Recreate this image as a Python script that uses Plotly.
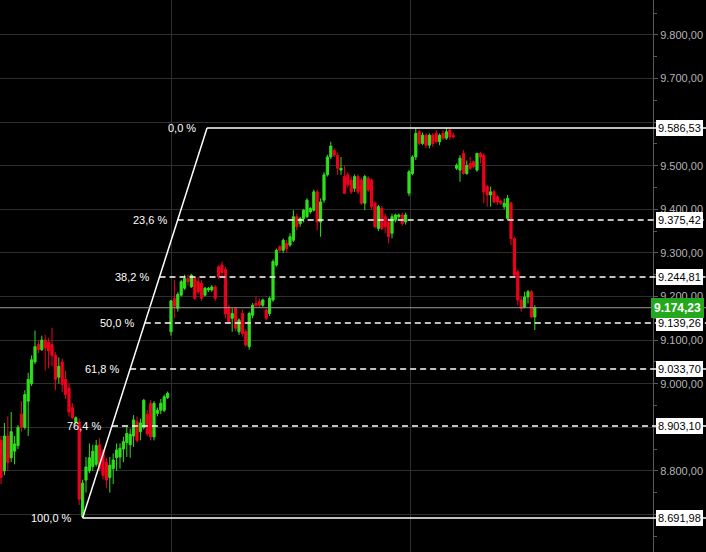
import plotly.graph_objects as go

# ---------------- data ----------------
opens = [8870, 8800, 8880, 8830, 8845, 8858, 8930, 8900, 8960, 9000,
         9050, 9090, 9078, 9100, 9095, 9090, 9065, 9015, 9050, 9010,
         8990, 8945, 8912, 8912, 8695, 8779, 8800, 8810, 8815, 8860,
         8845, 8820, 8785, 8805, 8830, 8832, 8850, 8865, 8860, 8880,
         8913, 8890, 8900, 8930, 8955, 8878, 8932, 8939, 8939, 8968,
         9119, 9195, 9173, 9203, 9219, 9241, 9222, 9241, 9234, 9230,
         9203, 9215, 9215, 9222, 9268, 9272, 9262, 9176, 9150, 9173,
         9119, 9161, 9119, 9085, 9157, 9184, 9188, 9180, 9169, 9161,
         9192, 9272, 9314, 9306, 9322, 9318, 9329, 9383, 9367, 9379,
         9383, 9394, 9398, 9440, 9371, 9421, 9479, 9520, 9535, 9524,
         9490, 9475, 9479, 9467, 9448, 9475, 9467, 9414, 9471, 9467,
         9414, 9356, 9402, 9383, 9371, 9345, 9375, 9383, 9387, 9371,
         9437, 9482, 9520, 9578, 9551, 9570, 9547, 9570, 9574, 9555,
         9574, 9563, 9582, 9570, 9494, 9490, 9528, 9482, 9505, 9509,
         9490, 9528, 9524, 9452, 9433, 9440, 9429, 9419, 9406, 9379,
         9414, 9333, 9257, 9192, 9176, 9199, 9211, 9153]
highs = [8880, 8910, 8925, 8935, 8880, 8905, 8960, 8985, 9025, 9065,
         9122, 9100, 9110, 9112, 9105, 9128, 9072, 9060, 9058, 9030,
         9000, 8955, 8925, 8920, 8780, 8832, 8863, 8860, 8871, 8875,
         8850, 8830, 8832, 8840, 8863, 8863, 8878, 8901, 8897, 8928,
         8925, 8920, 8965, 8940, 8962, 8960, 8945, 8965, 8975, 8982,
         9192, 9238, 9210, 9238, 9250, 9250, 9252, 9245, 9245, 9238,
         9222, 9222, 9226, 9226, 9272, 9280, 9268, 9180, 9173, 9176,
         9150, 9170, 9125, 9165, 9185, 9200, 9196, 9195, 9172, 9200,
         9285, 9310, 9318, 9333, 9330, 9345, 9398, 9390, 9383, 9400,
         9425, 9405, 9445, 9445, 9425, 9485, 9525, 9555, 9540, 9530,
         9520, 9500, 9485, 9475, 9480, 9480, 9472, 9479, 9476, 9470,
         9418, 9410, 9408, 9390, 9380, 9390, 9390, 9390, 9392, 9392,
         9490, 9524, 9586.53, 9582, 9576, 9574, 9574, 9574, 9582, 9574,
         9582, 9586, 9584, 9576, 9505, 9524, 9536, 9512, 9520, 9512,
         9530, 9532, 9528, 9456, 9452, 9445, 9433, 9422, 9425, 9433,
         9418, 9336, 9262, 9200, 9211, 9215, 9215, 9180]
lows = [8770, 8790, 8800, 8820, 8815, 8850, 8890, 8895, 8880, 8995,
        9045, 9070, 9075, 9030, 9035, 9040, 8985, 9000, 8980, 8965,
        8925, 8918, 8905, 8722, 8691.98, 8750, 8795, 8800, 8810, 8800,
        8780, 8760, 8750, 8770, 8800, 8805, 8820, 8832, 8830, 8855,
        8865, 8870, 8895, 8880, 8870, 8870, 8925, 8930, 8935, 8965,
        9110, 9150, 9165, 9200, 9215, 9225, 9220, 9192, 9205, 9190,
        9200, 9210, 9211, 9190, 9240, 9245, 9150, 9138, 9119, 9120,
        9112, 9108, 9085, 9078, 9150, 9176, 9175, 9176, 9145, 9155,
        9188, 9268, 9300, 9300, 9300, 9314, 9325, 9352, 9360, 9370,
        9380, 9390, 9395, 9352, 9337, 9415, 9475, 9515, 9520, 9479,
        9479, 9435, 9450, 9435, 9440, 9435, 9410, 9398, 9440, 9400,
        9356, 9350, 9352, 9345, 9322, 9333, 9370, 9378, 9362, 9365,
        9430, 9478, 9513, 9547, 9547, 9540, 9540, 9543, 9551, 9547,
        9559, 9559, 9559, 9563, 9490, 9463, 9479, 9479, 9490, 9494,
        9486, 9505, 9414, 9406, 9406, 9414, 9410, 9410, 9400, 9375,
        9318, 9245, 9180, 9165, 9173, 9184, 9150, 9123]
closes = [8785, 8880, 8820, 8890, 8862, 8900, 8900, 8975, 9010, 9055,
          9085, 9078, 9100, 9082, 9075, 9065, 9010, 9040, 8998, 8975,
          8935, 8922, 8922, 8735, 8772, 8809, 8830, 8845, 8858, 8805,
          8790, 8779, 8813, 8825, 8848, 8852, 8867, 8886, 8884, 8917,
          8870, 8910, 8962, 8885, 8878, 8955, 8939, 8955, 8970, 8978,
          9190, 9178, 9205, 9234, 9241, 9234, 9249, 9196, 9211, 9196,
          9219, 9219, 9222, 9196, 9245, 9255, 9160, 9142, 9161, 9127,
          9146, 9115, 9089, 9161, 9180, 9180, 9180, 9192, 9150, 9196,
          9280, 9306, 9306, 9329, 9310, 9337, 9383, 9360, 9379, 9398,
          9421, 9402, 9440, 9371, 9417, 9479, 9520, 9545, 9524, 9494,
          9494, 9437, 9456, 9440, 9475, 9440, 9414, 9475, 9444, 9406,
          9360, 9406, 9356, 9360, 9337, 9383, 9387, 9387, 9367, 9387,
          9486, 9520, 9574, 9551, 9570, 9547, 9570, 9551, 9555, 9570,
          9563, 9578, 9566, 9566, 9501, 9517, 9482, 9501, 9494, 9498,
          9528, 9520, 9440, 9433, 9440, 9417, 9417, 9414, 9414, 9425,
          9333, 9249, 9192, 9173, 9199, 9211, 9153, 9174.23]

fib_ratios = [0.0, 23.6, 38.2, 50.0, 61.8, 76.4, 100.0]
fib_prices = [9586.53, 9375.42, 9244.81, 9139.26, 9033.70, 8903.10, 8691.98]
fib_anchor_x = [60.6, 24.0]          # candle positions of the 0 % and 100 % anchors

ytick_vals = [8700, 8800, 8900, 9000, 9100, 9200, 9300, 9400, 9500, 9600, 9700, 9800]
day_breaks = [50.15, 120.45]

# ---------------- style ----------------
GREEN = "#2fe01c"
RED = "#f0001e"
GRID = "#2e2e2e"
FONT = "Liberation Sans, Arial, sans-serif"
X_RANGE = [-1 / 3.4, 652 / 3.4]
Y_RANGE = [8614, 9880]


def de(v):
    return f"{v:,.2f}".replace(",", "X").replace(".", ",").replace("X", ".")


def pct(r):
    return f"{r:.1f}".replace(".", ",") + " %"


hidden = {8700, 8900, 9600}
ytick_text = ["" if v in hidden else de(v) for v in ytick_vals]

x = list(range(len(opens)))

fig = go.Figure()
fig.add_trace(go.Candlestick(
    x=x, open=opens, high=highs, low=lows, close=closes,
    increasing=dict(line=dict(color=GREEN, width=1), fillcolor=GREEN),
    decreasing=dict(line=dict(color=RED, width=1), fillcolor=RED),
    whiskerwidth=0, showlegend=False, hoverinfo="skip",
))


def to_paper(xv):
    return (xv - X_RANGE[0]) / (X_RANGE[1] - X_RANGE[0])


x_top, x_low = fib_anchor_x
shapes = []
annotations = []

# diagonal trend line
shapes.append(dict(type="line", xref="x", yref="y", x0=x_low, y0=fib_prices[-1],
                   x1=x_top, y1=fib_prices[0], line=dict(color="white", width=1.5)))

# current price line
last = closes[-1]
shapes.append(dict(type="line", xref="paper", yref="y", x0=0, x1=1.2, y0=last, y1=last,
                   line=dict(color="#9a9a9a", width=1)))

for r, p in zip(fib_ratios, fib_prices):
    xd = x_top - (r / 100.0) * (x_top - x_low)
    solid = r in (0.0, 100.0)
    shapes.append(dict(type="line", xref="paper", yref="y", x0=to_paper(xd), x1=1.2,
                       y0=p, y1=p,
                       line=dict(color="white", width=1.5, dash="solid" if solid else "6px,4px")))
    annotations.append(dict(x=xd, y=p, xref="x", yref="y", text=pct(r), showarrow=False,
                            xanchor="right", yanchor="middle", xshift=-9,
                            font=dict(color="white", size=11, family=FONT)))
    annotations.append(dict(x=1, y=p, xref="paper", yref="y", text=de(p), showarrow=False,
                            xanchor="left", yanchor="middle", xshift=3,
                            bgcolor="white", bordercolor="white", borderpad=1,
                            font=dict(color="black", size=11, family=FONT)))

annotations.append(dict(x=1, y=last, xref="paper", yref="y", text="<b>" + de(last) + "</b>",
                        showarrow=False, xanchor="left", yanchor="middle", xshift=-2,
                        bgcolor="#23a81e", bordercolor="#23a81e", borderpad=2,
                        font=dict(color="white", size=12, family=FONT)))

fig.update_layout(
    width=706, height=552, autosize=False,
    margin=dict(l=0, r=53, t=0, b=0, pad=0),
    paper_bgcolor="black", plot_bgcolor="black",
    separators=",.",
    boxgap=0.25, boxgroupgap=0.15,
    showlegend=False,
    shapes=shapes, annotations=annotations,
    font=dict(family=FONT, size=11, color="#b4b4b4"),
    xaxis=dict(range=X_RANGE, rangeslider=dict(visible=False), tickmode="array",
               tickvals=day_breaks, showticklabels=False, ticks="", showgrid=True,
               gridcolor=GRID, gridwidth=1, zeroline=False, showline=False,
               automargin=False, fixedrange=True),
    yaxis=dict(range=Y_RANGE, side="right", tickmode="array", tickvals=ytick_vals,
               ticktext=ytick_text, ticks="outside", ticklen=4, tickcolor="#5a5a5a",
               showgrid=True, gridcolor=GRID, gridwidth=1, zeroline=False,
               showline=True, linecolor="#5a5a5a", linewidth=1,
               tickfont=dict(color="#b4b4b4", size=11, family=FONT),
               minor=dict(tickmode="linear", tick0=0, dtick=50, ticks="outside",
                          ticklen=3, tickcolor="#5a5a5a", showgrid=False),
               automargin=False, fixedrange=True),
)

fig.write_html(
    "out.html",
    config={"displayModeBar": False, "staticPlot": True},
    post_script="document.body.style.margin='0';document.body.style.padding='0';"
                "document.body.style.overflow='hidden';document.body.style.background='black';",
)
